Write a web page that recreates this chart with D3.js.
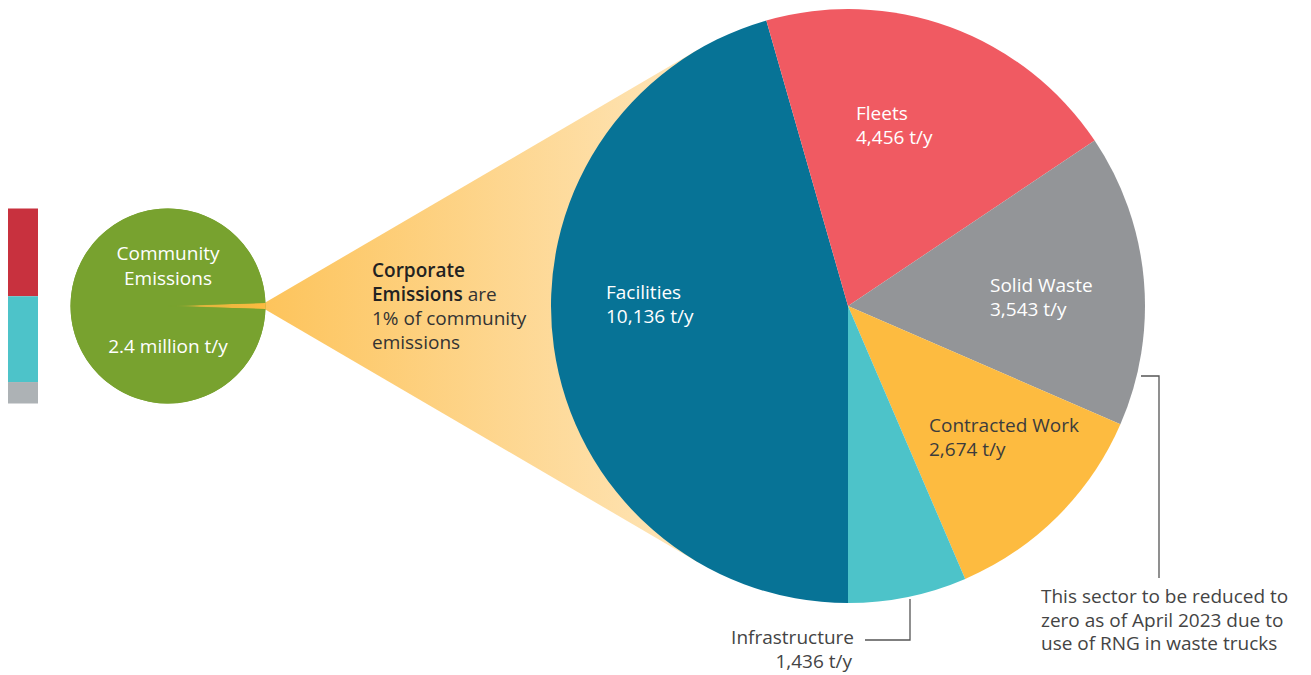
<!DOCTYPE html>
<html>
<head>
<meta charset="utf-8">
<script src="https://cdn.jsdelivr.net/npm/d3@7"></script>
<style>
  html, body { margin: 0; padding: 0; background: #fff; }
  svg { display: block; font-family: "Open Sans", "Noto Sans", sans-serif; }
</style>
</head>
<body>
<svg id="chart" width="1311" height="675"></svg>
<script>
// ---- data ----
const sectors = ["Facilities", "Fleets", "Solid Waste", "Contracted Work", "Infrastructure"];
const sectorValues = [10136, 4456, 3543, 2674, 1436];
const sectorLabels = ["10,136 t/y", "4,456 t/y", "3,543 t/y", "2,674 t/y", "1,436 t/y"];
const sectorColors = ["#077396", "#f05a62", "#939598", "#fdbb40", "#4dc3c9"];

const communityParts = ["Corporate", "Rest of community"];
const communityShares = [1, 99];
const communityLabel = ["Community", "Emissions"];
const communityValueLabel = "2.4 million t/y";

const barShares = [45, 44, 11];
const barColors = ["#c8313e", "#4dc3c9", "#adb2b5"];

const corporateText = [
  [{t: "Corporate", b: true}],
  [{t: "Emissions", b: true}, {t: " are", b: false}],
  [{t: "1% of community", b: false}],
  [{t: "emissions", b: false}]
];
const noteText = ["This sector to be reduced to", "zero as of April 2023 due to", "use of RNG in waste trucks"];

// ---- layout ----
const FS = 19;
const svg = d3.select("#chart");
const big = {cx: 848, cy: 306, r: 297};
const small = {cx: 168, cy: 306, r: 97.5};
const defs = svg.append("defs");

// funnel gradient
const fg = defs.append("linearGradient").attr("id", "funnelGrad")
  .attr("gradientUnits", "userSpaceOnUse").attr("x1", 266).attr("x2", 680).attr("y1", 0).attr("y2", 0);
fg.append("stop").attr("offset", 0).attr("stop-color", "#fdc45c");
fg.append("stop").attr("offset", 1).attr("stop-color", "#fee4b6");

// wedge gradient (in the translated group's local coordinates)
const wg = defs.append("linearGradient").attr("id", "wedgeGrad")
  .attr("gradientUnits", "userSpaceOnUse").attr("x1", 0).attr("x2", small.r).attr("y1", 0).attr("y2", 0);
wg.append("stop").attr("offset", 0).attr("stop-color", "#fdbb40").attr("stop-opacity", 0);
wg.append("stop").attr("offset", 0.4).attr("stop-color", "#fdbb40").attr("stop-opacity", 0.8);
wg.append("stop").attr("offset", 1).attr("stop-color", "#fdbb40").attr("stop-opacity", 1);

// ---- left stacked bar ----
const barY = d3.scaleLinear().domain([0, d3.sum(barShares)]).range([small.cy - small.r, small.cy + small.r]);
let acc = 0;
const barStack = barShares.map((v, i) => { const s = {y0: acc, y1: acc + v, c: barColors[i]}; acc += v; return s; });
svg.append("g").selectAll("rect").data(barStack).join("rect")
  .attr("x", 8).attr("width", 30)
  .attr("y", d => barY(d.y0)).attr("height", d => barY(d.y1) - barY(d.y0))
  .attr("fill", d => d.c);

// ---- small community pie ----
const smallPie = d3.pie().sort(null)
  .startAngle(Math.PI / 2 - Math.PI * communityShares[0] / 100)
  .endAngle(Math.PI / 2 - Math.PI * communityShares[0] / 100 + 2 * Math.PI);
const smallArcs = smallPie(communityShares);
const smallArc = d3.arc().innerRadius(0).outerRadius(small.r);

// ---- funnel (tangents from wedge edge to big circle) ----
const wedgeTopAngle = smallArcs[0].startAngle, wedgeBotAngle = smallArcs[0].endAngle;
const pTop = [small.cx + small.r * Math.sin(wedgeTopAngle) - 1, small.cy - small.r * Math.cos(wedgeTopAngle)];
const pBot = [small.cx + small.r * Math.sin(wedgeBotAngle) - 1, small.cy - small.r * Math.cos(wedgeBotAngle)];
function tangent(p, sign) {
  const dx = big.cx - p[0], dy = big.cy - p[1];
  const dist = Math.hypot(dx, dy);
  const th = Math.atan2(dy, dx), al = Math.asin(big.r / dist);
  const L = Math.sqrt(dist * dist - big.r * big.r);
  const a = th + sign * al;
  return [p[0] + L * Math.cos(a), p[1] + L * Math.sin(a)];
}
const tTop = tangent(pTop, -1), tBot = tangent(pBot, 1);
svg.append("path")
  .attr("d", d3.line()([pTop, tTop, [big.cx, big.cy], tBot, pBot]) + "Z")
  .attr("fill", "url(#funnelGrad)");

const sg = svg.append("g").attr("transform", `translate(${small.cx},${small.cy})`);
sg.append("circle").attr("r", small.r).attr("fill", "#78a22f");
sg.selectAll("path").data(smallArcs).join("path")
  .attr("d", smallArc)
  .attr("fill", (d, i) => i === 0 ? "url(#wedgeGrad)" : "#78a22f");

sg.append("text").attr("text-anchor", "middle").attr("fill", "#fff").attr("font-size", FS)
  .selectAll("tspan").data(communityLabel).join("tspan")
  .attr("x", 0).attr("y", (d, i) => -46 + i * 25).text(d => d);
sg.append("text").attr("text-anchor", "middle").attr("fill", "#fff").attr("font-size", FS)
  .attr("x", 0).attr("y", 47).text(communityValueLabel);

// ---- corporate text ----
const ct = svg.append("text").attr("font-size", FS).attr("fill", "#333");
corporateText.forEach((line, i) => {
  line.forEach((seg, j) => {
    const ts = ct.append("tspan").text(seg.t)
      .attr("font-weight", seg.b ? 600 : 400)
      .attr("fill", seg.b ? "#222" : "#333");
    if (j === 0) ts.attr("x", 372).attr("y", 277 + i * 24);
  });
});

// ---- big pie ----
const bigPie = d3.pie().sort(null).startAngle(Math.PI).endAngle(3 * Math.PI);
const bigArcs = bigPie(sectorValues);
const bigArc = d3.arc().innerRadius(0).outerRadius(big.r);
const bg = svg.append("g").attr("transform", `translate(${big.cx},${big.cy})`);
bg.selectAll("path").data(bigArcs).join("path")
  .attr("d", bigArc).attr("fill", (d, i) => sectorColors[i]);

// label positions (relative to pie centre), anchors
const labelPos = [
  {x: -242, y: -7, anchor: "start", color: "#fff"},
  {x: 8, y: -186, anchor: "start", color: "#fff"},
  {x: 142, y: -14, anchor: "start", color: "#fff"},
  {x: 81, y: 126, anchor: "start", color: "#3c3c3c"},
  {x: 6, y: 338, anchor: "end", color: "#444"}
];
bigArcs.forEach((a, i) => {
  const p = labelPos[i];
  const t = bg.append("text").attr("text-anchor", p.anchor).attr("fill", p.color).attr("font-size", FS);
  t.append("tspan").attr("x", p.x).attr("y", p.y).text(sectors[i]);
  t.append("tspan").attr("x", p.x + (i === 4 ? -2 : 0)).attr("y", p.y + 24).text(sectorLabels[i]);
});

// ---- callout lines ----
svg.append("path")
  .attr("d", "M865,640H910V599")
  .attr("fill", "none").attr("stroke", "#555").attr("stroke-width", 1.3);
svg.append("path")
  .attr("d", "M1141,376H1159V578")
  .attr("fill", "none").attr("stroke", "#555").attr("stroke-width", 1.3);
svg.append("text").attr("font-size", FS).attr("fill", "#444")
  .selectAll("tspan").data(noteText).join("tspan")
  .attr("x", 1041).attr("y", (d, i) => 603 + i * 23.5).text(d => d);
</script>
</body>
</html>
